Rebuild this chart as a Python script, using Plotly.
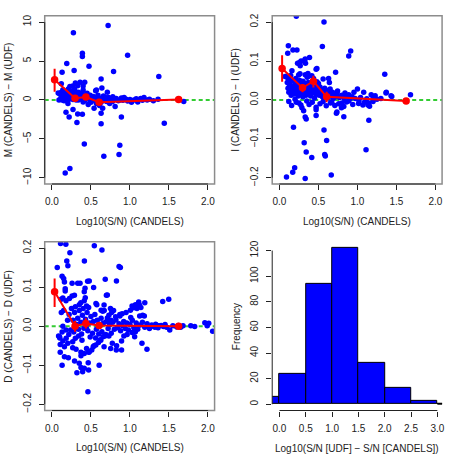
import plotly.graph_objects as go

# ---- data ----
# top-left: M(CANDELS) - M(UDF) vs log10(S/N)
tl_pts = [
    (0.275, 8.64), (0.72, 9.57), (0.39, 6.0), (0.39, 5.57), (0.97, 5.74), (0.19, 4.68),
    (0.475, 4.34), (0.284, 3.79), (0.79, 3.66), (0.13, 3.57), (1.37, 3.02), (0.63, 2.68),
    (0.12, 2.09), (0.30, 2.17), (0.36, 2.26), (0.42, 2.26), (0.23, 1.74), (0.33, 1.83),
    (0.265, 1.78), (0.40, 1.78), (0.29, 1.35), (0.40, 1.29), (0.57, 1.29), (0.64, 1.52),
    (0.29, 1.19), (0.56, 1.19), (0.71, 0.98), (0.08, 0.89),
    (0.81, -0.85), (0.89, -2.2), (1.44, -2.98), (0.32, -2.9), (0.18, -1.57), (0.33, -1.8),
    (0.39, -1.83), (0.22, -2.2), (0.63, -1.7), (0.63, -3.06), (0.415, -5.66), (0.87, -5.83),
    (0.86, -7.02), (0.665, -7.23), (0.23, -8.8), (0.17, -9.4), (1.69, -0.2), (0.27, -1.23),
    (0.54, -1.06), (0.65, -1.06), (0.205, -0.47), (0.465, -0.59), (0.50, -0.3), (0.57, -0.45),
    (0.61, -0.7), (0.40, -0.25),
    (0.10, 0.75), (0.12, 1.0), (0.14, 0.55), (0.15, 0.3), (0.16, 0.9), (0.17, 0.6), (0.18, 0.2),
    (0.19, 1.1), (0.20, 0.4), (0.21, 0.7), (0.22, 0.1), (0.23, 0.95), (0.24, 0.5), (0.25, 0.25),
    (0.26, 0.8), (0.27, 0.05), (0.28, 0.45), (0.29, 0.65), (0.30, 0.15), (0.31, 0.9), (0.32, 0.35),
    (0.33, 0.6), (0.34, 0.0), (0.35, 0.4), (0.36, 0.8), (0.37, 0.2), (0.38, 0.55), (0.39, 0.1),
    (0.40, 0.7), (0.41, 0.3), (0.42, -0.1), (0.43, 0.5), (0.44, 0.15), (0.45, 0.85), (0.46, 0.35),
    (0.48, 0.05), (0.49, 0.6), (0.51, 0.25), (0.52, -0.05), (0.53, 0.45), (0.55, 0.1), (0.56, 0.3),
    (0.58, -0.15), (0.59, 0.6), (0.60, 0.0), (0.62, 0.2), (0.63, -0.3), (0.66, 0.5), (0.68, 0.1),
    (0.70, -0.2), (0.12, 0.3), (0.14, 1.3), (0.16, 0.05), (0.19, 0.55), (0.21, 1.4), (0.25, 1.1),
    (0.27, 0.6), (0.31, 0.0), (0.34, 1.0), (0.09, 0.0), (0.11, 0.1), (0.13, 0.0), (0.155, -0.1),
    (0.175, 0.15), (0.20, 0.0),
    (0.726, 0.3), (0.75, 0.1), (0.776, -0.2), (0.80, 0.05), (0.824, 0.2), (0.85, -0.1), (0.87, 0.0),
    (0.89, 0.25), (0.91, -0.05), (0.925, 0.3), (0.95, 0.1), (0.97, -0.15), (1.0, 0.05), (1.02, -0.3),
    (1.052, 0.0), (1.08, 0.15), (1.10, -0.25), (1.137, 0.2), (1.16, -0.05), (1.18, 0.3), (1.22, 0.0),
    (1.25, 0.1), (1.30, -0.1), (1.36, 0.1), (0.68, 0.35), (0.74, -0.45), (0.78, 0.4),
]

# top-right: I(CANDELS) - I(UDF)
tr_pts = [
    (0.216, 0.215), (0.571, 0.2), (0.114, 0.139), (0.55, 0.137), (0.106, 0.12), (0.173, 0.128),
    (0.224, 0.128), (0.913, 0.126), (0.888, 0.113), (0.385, 0.109), (0.33, 0.105), (0.334, 0.094),
    (0.258, 0.096), (0.277, 0.1), (0.31, 0.1), (0.232, 0.094), (0.47, 0.079), (0.48, 0.081),
    (0.36, 0.064), (0.365, 0.068), (0.355, 0.058), (0.72, 0.071), (1.35, 0.066), (0.266, 0.088),
    (0.16, 0.075), (0.076, 0.06), (0.63, 0.055), (0.64, 0.045), (0.56, 0.054), (1.0, 0.028),
    (1.08, 0.02), (1.366, 0.018), (1.44, 0.0085), (1.68, 0.013), (1.2, 0.009), (0.84, 0.018),
    (0.745, 0.023),
    (0.156, -0.0145), (0.216, -0.006), (0.275, -0.013), (0.288, -0.02), (0.31, -0.028),
    (0.33, -0.044), (0.343, -0.049), (0.47, -0.019), (0.47, -0.025), (0.47, -0.04), (0.73, -0.034),
    (0.795, -0.02), (0.825, -0.043), (1.07, -0.013), (1.146, -0.008), (1.155, -0.016),
    (1.146, -0.052), (0.18, -0.07), (0.571, -0.077), (0.605, -0.104), (0.317, -0.11),
    (0.343, -0.134), (1.11, -0.128), (0.58, -0.14), (0.588, -0.144), (0.414, -0.148),
    (0.195, -0.174), (0.17, -0.186), (0.09, -0.198), (0.33, -0.202), (0.664, -0.193),
    (0.077, 0.06), (0.11, 0.056), (0.144, 0.063), (0.246, 0.064), (0.263, 0.067), (0.33, 0.065),
    (0.365, 0.06), (0.415, 0.062), (0.437, 0.055), (0.48, 0.047), (0.50, 0.042),
    (0.955, 0.02), (0.888, 0.013), (1.176, 0.013), (1.227, 0.011), (1.37, 0.02), (1.43, 0.011),
    (0.888, -0.003), (1.015, -0.009), (1.09, -0.006), (1.135, -0.013), (0.80, -0.008),
    (0.825, -0.017), (0.654, -0.008), (0.71, -0.014), (0.737, -0.031),
    (0.10, 0.045), (0.11, 0.03), (0.12, 0.052), (0.12, 0.02), (0.13, 0.038), (0.14, 0.025),
    (0.15, 0.048), (0.15, 0.012), (0.16, 0.035), (0.17, 0.022), (0.18, 0.05), (0.18, 0.03),
    (0.19, 0.015), (0.20, 0.04), (0.20, 0.025), (0.21, 0.055), (0.22, 0.033), (0.22, 0.018),
    (0.23, 0.045), (0.24, 0.028), (0.24, 0.01), (0.25, 0.038), (0.26, 0.022), (0.26, 0.05),
    (0.27, 0.032), (0.28, 0.015), (0.28, 0.042), (0.29, 0.027), (0.30, 0.048), (0.30, 0.008),
    (0.31, 0.035), (0.32, 0.02), (0.33, 0.043), (0.33, 0.026), (0.34, 0.012), (0.35, 0.037),
    (0.36, 0.03), (0.36, 0.016), (0.37, 0.045), (0.38, 0.024), (0.39, 0.035), (0.40, 0.01),
    (0.40, 0.028), (0.41, 0.042), (0.42, 0.018), (0.43, 0.033), (0.44, 0.022), (0.45, 0.005),
    (0.46, 0.03), (0.47, 0.015), (0.48, 0.036), (0.49, 0.02), (0.50, 0.027), (0.51, 0.012),
    (0.52, 0.033), (0.53, 0.018), (0.54, 0.025), (0.55, 0.008), (0.57, 0.02), (0.58, 0.03),
    (0.59, 0.012), (0.61, 0.024), (0.62, 0.005), (0.64, 0.016), (0.65, 0.028), (0.66, 0.01),
    (0.68, 0.02), (0.69, 0.004), (0.70, 0.014), (0.72, 0.008), (0.74, 0.016), (0.77, 0.006),
    (0.80, 0.012), (0.83, 0.004), (0.86, 0.01), (0.90, 0.002), (0.93, 0.008), (0.97, 0.004),
    (1.04, 0.006), (1.12, 0.003), (1.25, 0.002),
    (0.12, -0.004), (0.20, 0.002), (0.25, -0.008), (0.35, -0.003), (0.38, -0.012), (0.42, -0.006),
    (0.52, -0.01), (0.56, -0.004), (0.60, -0.015), (0.67, -0.006), (0.76, -0.01), (0.86, -0.005),
    (0.94, -0.012), (1.02, -0.003), (1.20, -0.004), (1.30, 0.004),
]

# bottom-left: D(CANDELS) - D(UDF)
bl_pts = [
    (0.11, 0.212), (0.178, 0.21), (0.543, 0.206), (0.641, 0.195), (0.23, 0.188), (0.19, 0.167),
    (0.204, 0.155), (0.416, 0.167), (0.068, 0.15), (0.86, 0.153), (0.877, 0.15), (0.13, 0.128),
    (0.15, 0.122), (0.33, 0.11), (0.36, 0.11), (0.683, 0.12), (0.827, 0.116), (0.424, 0.097),
    (0.534, 0.099), (0.16, 0.113), (0.17, 0.096), (0.17, 0.09), (0.71, 0.08), (0.564, 0.058),
    (1.42, 0.063), (1.497, 0.069), (1.19, 0.06), (1.12, 0.055), (1.14, 0.048),
    (0.258, 0.11), (0.118, 0.069), (0.14, 0.072), (0.18, 0.065), (0.224, 0.071), (0.258, 0.077),
    (0.288, 0.079), (0.414, 0.088), (0.427, 0.073), (0.414, 0.065), (0.457, 0.115), (0.478, 0.116),
    (0.444, 0.052), (0.35, 0.055), (0.37, 0.06), (0.575, 0.055), (0.63, 0.041), (0.651, 0.038),
    (0.668, 0.054), (0.698, 0.079),
    (0.73, 0.028), (0.71, 0.021), (0.765, 0.035), (0.757, 0.015), (0.816, 0.024), (0.871, 0.026),
    (0.90, 0.032), (1.006, 0.041), (1.027, 0.052), (1.049, 0.047), (1.07, 0.055), (1.09, 0.045),
    (1.125, 0.026), (1.163, 0.028), (1.184, 0.026), (1.112, 0.062),
    (1.30, 0.0), (1.32, -0.003), (1.37, 0.001), (1.43, -0.001), (1.47, -0.003), (1.51, -0.01),
    (1.62, 0.002), (1.65, -0.003), (1.68, 0.001), (1.78, 0.001), (1.83, -0.001),
    (1.96, 0.0085), (2.01, 0.0077), (2.06, -0.013), (1.99, 0.001),
    (1.154, -0.044), (1.218, -0.059), (1.06, -0.027), (1.027, -0.016), (1.07, -0.014),
    (0.964, -0.021), (0.922, -0.025), (0.892, -0.038), (0.829, -0.05), (0.825, -0.061),
    (0.892, -0.061), (0.774, -0.044), (0.73, -0.025), (0.69, -0.021), (0.655, -0.027),
    (0.626, -0.036), (0.596, -0.042), (0.562, -0.048), (0.529, -0.053), (0.478, -0.066),
    (0.444, -0.057), (0.385, -0.036), (0.342, -0.025), (0.30, -0.031), (0.266, -0.04),
    (0.216, -0.021), (0.182, -0.031), (0.14, -0.038), (0.097, -0.027), (0.085, -0.025),
    (0.106, -0.047), (0.16, -0.053), (0.203, -0.044), (0.266, -0.055), (0.309, -0.059),
    (0.372, -0.067), (0.106, -0.067), (0.16, -0.078), (0.21, -0.081), (0.29, -0.089),
    (0.35, -0.095), (0.13, -0.1), (0.393, -0.117), (0.32, -0.119), (0.372, -0.106),
    (0.414, -0.108), (0.465, -0.094), (0.47, -0.112), (0.605, -0.1), (0.461, -0.168),
    (0.372, -0.076), (0.414, -0.07), (0.47, -0.067), (0.51, -0.061), (0.54, -0.05),
    (0.668, -0.053), (0.753, -0.057),
    (0.22, 0.03), (0.25, 0.045), (0.27, 0.015), (0.29, 0.035), (0.31, 0.005), (0.33, 0.02),
    (0.35, 0.04), (0.37, 0.01), (0.39, 0.028), (0.41, -0.005), (0.43, 0.018), (0.45, 0.035),
    (0.46, -0.012), (0.48, 0.008), (0.50, 0.025), (0.52, -0.018), (0.53, 0.012), (0.55, 0.03),
    (0.57, -0.008), (0.58, 0.015), (0.60, -0.02), (0.61, 0.005), (0.63, 0.02), (0.64, -0.014),
    (0.66, 0.008), (0.68, -0.025), (0.70, 0.012), (0.72, -0.006), (0.74, 0.004), (0.76, -0.018),
    (0.78, 0.01), (0.80, -0.008), (0.82, 0.016), (0.84, -0.004), (0.86, 0.006), (0.88, -0.012),
    (0.90, 0.002), (0.92, 0.012), (0.94, -0.006), (0.96, 0.008), (0.98, -0.01), (1.00, 0.004),
    (1.03, 0.015), (1.05, -0.004), (1.08, 0.008), (1.10, -0.008), (1.13, 0.003), (1.16, 0.01),
    (1.19, -0.003), (1.22, 0.006), (1.25, -0.006), (1.28, 0.003), (1.33, 0.005), (1.36, -0.004),
    (1.40, 0.002), (1.45, 0.004), (1.55, 0.001), (1.60, -0.002), (0.24, -0.01), (0.28, -0.015),
    (0.34, -0.008), (0.38, -0.02), (0.44, -0.004), (0.49, -0.028), (0.56, -0.03), (0.62, -0.035),
    (0.30, 0.05), (0.40, 0.045), (0.47, 0.048), (0.15, 0.04), (0.12, 0.035), (0.20, 0.015),
    (0.14, 0.0), (0.18, -0.01), (0.10, -0.03), (0.13, -0.015), (0.87, 0.03), (0.95, 0.035),
    (1.01, 0.022), (0.79, 0.04), (0.75, 0.045), (0.67, 0.04),
]

# binned medians (red) with errors: x, y, upper, lower
bin_x = [0.034, 0.296, 0.435, 0.605, 1.624]
tl_med = [2.6, 0.21, 0.38, -0.3, 0.04]
tl_hi = [4.0, 0.5, 0.75, -0.1, 0.2]
tl_lo = [1.05, -0.05, 0.1, -0.5, -0.12]
tr_med = [0.081, 0.031, 0.048, 0.008, -0.003]
tr_hi = [0.115, 0.041, 0.062, 0.021, 0.004]
tr_lo = [0.047, 0.02, 0.032, -0.006, -0.009]
bl_med = [0.088, 0.0, 0.007, 0.002, 0.0]
bl_hi = [0.122, 0.013, 0.02, 0.009, 0.005]
bl_lo = [0.049, -0.014, -0.006, -0.005, -0.004]

# histogram of log10(S/N[UDF] - S/N[CANDELS])
hist_edges = [-0.5, 0.0, 0.5, 1.0, 1.5, 2.0, 2.5, 3.0, 3.5]
hist_counts = [6, 24, 94, 122, 32, 13, 3, 0]

FONT = "Liberation Sans, Arial, Helvetica, sans-serif"
BLUE = "#0000ff"
RED = "#ff0000"
GREEN = "#33cc33"

fig = go.Figure()

panels = [
    ("x", "y", tl_pts, tl_med, tl_hi, tl_lo),
    ("x2", "y2", tr_pts, tr_med, tr_hi, tr_lo),
    ("x3", "y3", bl_pts, bl_med, bl_hi, bl_lo),
]
for xa, ya, pts, med, hi, lo in panels:
    fig.add_trace(go.Scatter(
        x=[p[0] for p in pts], y=[p[1] for p in pts], mode="markers",
        marker=dict(color=BLUE, size=5.5, line=dict(width=0)),
        xaxis=xa, yaxis=ya, showlegend=False, cliponaxis=True,
    ))
    fig.add_trace(go.Scatter(
        x=bin_x, y=med, mode="lines+markers",
        line=dict(color=RED, width=2),
        marker=dict(color=RED, size=7.5),
        error_y=dict(type="data", symmetric=False,
                     array=[h - m for h, m in zip(hi, med)],
                     arrayminus=[m - l for m, l in zip(med, lo)],
                     color=RED, thickness=2, width=0),
        xaxis=xa, yaxis=ya, showlegend=False,
    ))

centers = [(a + b) / 2 for a, b in zip(hist_edges[:-1], hist_edges[1:])]
fig.add_trace(go.Bar(
    x=centers, y=hist_counts, width=0.5,
    marker=dict(color=BLUE, line=dict(color="black", width=1)),
    xaxis="x4", yaxis="y4", showlegend=False,
))
# empty last bin drawn as a flat outline, like R does
fig.add_trace(go.Scatter(
    x=hist_edges[-2:], y=[0, 0], mode="lines", line=dict(color="black", width=1),
    xaxis="x4", yaxis="y4", showlegend=False,
))

W = 458.0
def dom(a, b):
    return [a / W, b / W]

xdom_l, xdom_r = dom(45, 216), dom(274, 445)
ydom_t = [1 - 183 / W, 1 - 13 / W]
ydom_b = [1 - 412 / W, 1 - 241.5 / W]

tick_font = dict(family=FONT, size=10, color="#222222")

def xax(domain, anchor, rng, vals):
    return dict(domain=domain, anchor=anchor, range=rng, tickvals=vals,
                ticktext=[f"{v:.1f}" for v in vals], ticks="outside", ticklen=5,
                tickcolor="#222222", tickwidth=1, showgrid=False, zeroline=False,
                showline=False, tickfont=tick_font, ticklabelstandoff=3)

def yax(domain, anchor, rng, vals, txt):
    return dict(domain=domain, anchor=anchor, range=rng, tickvals=vals, ticktext=txt,
                ticks="outside", ticklen=5, tickcolor="#222222", tickwidth=1,
                showgrid=False, zeroline=False, showline=False, tickfont=tick_font,
                tickangle=-90, ticklabelstandoff=4)

sx_vals = [0, 0.5, 1.0, 1.5, 2.0]
sx_rng = [-0.093, 2.085]
small_vals = [-0.2, -0.1, 0.0, 0.1, 0.2]
small_txt = ["\u22120.2", "\u22120.1", "0.0", "0.1", "0.2"]

fig.update_layout(
    width=458, height=458,
    margin=dict(l=0, r=0, t=0, b=0),
    paper_bgcolor="white", plot_bgcolor="white",
    font=dict(family=FONT, size=10, color="#222222"),
    xaxis=xax(xdom_l, "y", sx_rng, sx_vals),
    yaxis=yax(ydom_t, "x", [-10.8, 10.8], [-10, -5, 0, 5, 10],
              ["\u221210", "\u22125", "0", "5", "10"]),
    xaxis2=xax(xdom_r, "y2", sx_rng, sx_vals),
    yaxis2=yax(ydom_t, "x2", [-0.216, 0.216], small_vals, small_txt),
    xaxis3=xax(xdom_l, "y3", sx_rng, sx_vals),
    yaxis3=yax(ydom_b, "x3", [-0.216, 0.216], small_vals, small_txt),
    xaxis4=xax(xdom_r, "y4", [-0.138, 3.09], [0, 0.5, 1.0, 1.5, 2.0, 2.5, 3.0]),
    yaxis4=yax(ydom_b, "x4", [-4.9, 126.8], [0, 20, 40, 60, 80, 100, 120],
               ["0", "20", "40", "60", "80", "100", "120"]),
    bargap=0,
)

shapes = []
# grey box + black axis lines for the scatter panels
for xa, ya, ylo, yhi in [("x", "y", -10, 10), ("x2", "y2", -0.2, 0.2), ("x3", "y3", -0.2, 0.2)]:
    shapes.append(dict(type="rect", xref=f"{xa} domain", yref=f"{ya} domain",
                       x0=0, x1=1, y0=0, y1=1, line=dict(color="#8c8c8c", width=1.5)))
    shapes.append(dict(type="line", xref=f"{xa} domain", yref=ya, x0=0, x1=1, y0=0, y1=0,
                       line=dict(color=GREEN, width=2, dash="4px,3px"), layer="below"))
    shapes.append(dict(type="line", xref=xa, yref=f"{ya} domain", x0=0, x1=2, y0=0, y1=0,
                       line=dict(color="#222222", width=1)))
    shapes.append(dict(type="line", xref=f"{xa} domain", yref=ya, x0=0, x1=0, y0=ylo, y1=yhi,
                       line=dict(color="#222222", width=1)))
# histogram axis lines
shapes.append(dict(type="line", xref="x4", yref="y4 domain", x0=0, x1=3, y0=0, y1=0,
                   line=dict(color="#222222", width=1)))
shapes.append(dict(type="line", xref="x4 domain", yref="y4", x0=0, x1=0, y0=0, y1=120,
                   line=dict(color="#222222", width=1)))
fig.update_layout(shapes=shapes)

title_font = dict(family=FONT, size=10, color="#222222")
ann = []
for xc, yc, text in [
    (sum(xdom_l) / 2, 1 - 220.7 / W, "Log10(S/N) (CANDELS)"),
    (sum(xdom_r) / 2, 1 - 220.7 / W, "Log10(S/N) (CANDELS)"),
    (sum(xdom_l) / 2, 1 - 449.7 / W, "Log10(S/N) (CANDELS)"),
    (sum(xdom_r) / 2, 1 - 450.5 / W, "Log10(S/N [UDF] \u2212 S/N [CANDELS])"),
]:
    ann.append(dict(x=xc, y=yc, xref="paper", yref="paper", text=text, showarrow=False,
                    xanchor="center", yanchor="middle", font=title_font))
for xc, yc, text in [
    (8.5 / W, sum(ydom_t) / 2, "M (CANDELS) \u2212 M (UDF)"),
    (237.5 / W, sum(ydom_t) / 2, "I (CANDELS) \u2212 I (UDF)"),
    (8.5 / W, sum(ydom_b) / 2, "D (CANDELS) \u2212 D (UDF)"),
    (237.5 / W, sum(ydom_b) / 2, "Frequency"),
]:
    ann.append(dict(x=xc, y=yc, xref="paper", yref="paper", text=text, showarrow=False,
                    textangle=-90, xanchor="center", yanchor="middle", font=title_font))
fig.update_layout(annotations=ann)

# the page's default body margin would shift the figure by 8px
fig.write_html("out.html", config={"displayModeBar": False},
               post_script="document.body.style.margin='0';")
